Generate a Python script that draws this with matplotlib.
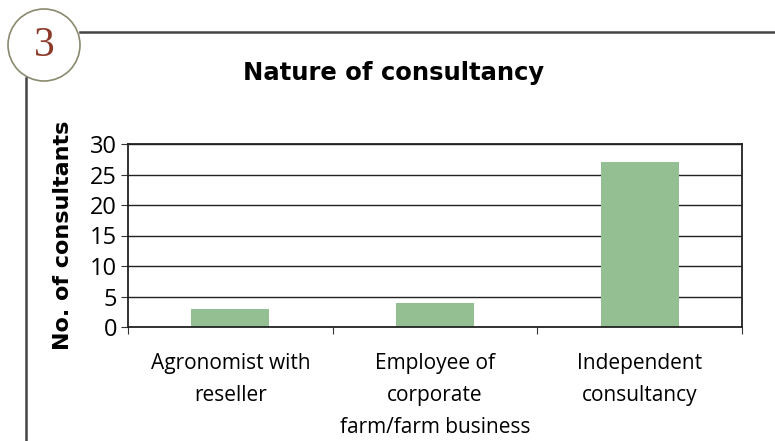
import matplotlib.pyplot as plt
from matplotlib.patches import Circle

categories = ['Agronomist with\nreseller', 'Employee of\ncorporate\nfarm/farm business', 'Independent\nconsultancy']
counts = [3, 4, 27]
yticks = [0, 5, 10, 15, 20, 25, 30]

plt.rcParams['font.family'] = ['Open Sans', 'DejaVu Sans']

W, H = 775, 441
fig = plt.figure(figsize=(W / 100, H / 100), dpi=100)

# decoration layer in pixel coordinates
deco = fig.add_axes([0, 0, 1, 1])
deco.set_xlim(0, W)
deco.set_ylim(H, 0)
deco.axis('off')
deco.add_patch(Circle((44, 45), 36, facecolor='white', edgecolor='#8a8a70', lw=1.2))
deco.plot([80, W], [32, 32], color='#444444', lw=1.8)
deco.plot([26, 26], [78, H], color='#444444', lw=1.8)
deco.text(44, 46, '3', ha='center', va='center', fontsize=30,
          family='Liberation Serif', color='#8b3a2a')
deco.text(394, 73, 'Nature of consultancy', ha='center', va='center',
          fontsize=17.5, fontweight='bold', family='DejaVu Sans', color='black')

ax = fig.add_axes([128 / W, 1 - 327 / H, 614 / W, 183 / H])
x = range(len(categories))
ax.bar(x, counts, width=0.38, color='#93bf93', zorder=2)
ax.set_xlim(-0.5, 2.5)
ax.set_ylim(0, 30)
ax.set_yticks(yticks)
ax.yaxis.grid(True, color='#222222', lw=1.0, zorder=1)
ax.set_xticks([-0.5, 0.5, 1.5, 2.5], minor=False)
ax.set_xticklabels([])
ax.set_xticks(list(x), minor=True)
ax.set_xticklabels(categories, minor=True, fontsize=15, linespacing=1.66, va='top')
ax.tick_params(axis='x', which='minor', length=0, pad=19)
ax.tick_params(axis='x', which='major', length=5, color='#333333')
ax.tick_params(axis='y', labelsize=17, length=5, pad=3, color='#333333')
for s in ax.spines.values():
    s.set_color('#222222')
    s.set_linewidth(1.3)
ax.set_ylabel('No. of consultants', fontsize=16, fontweight='bold',
              family='DejaVu Sans', labelpad=12)

fig.savefig('out.png', dpi=100)
